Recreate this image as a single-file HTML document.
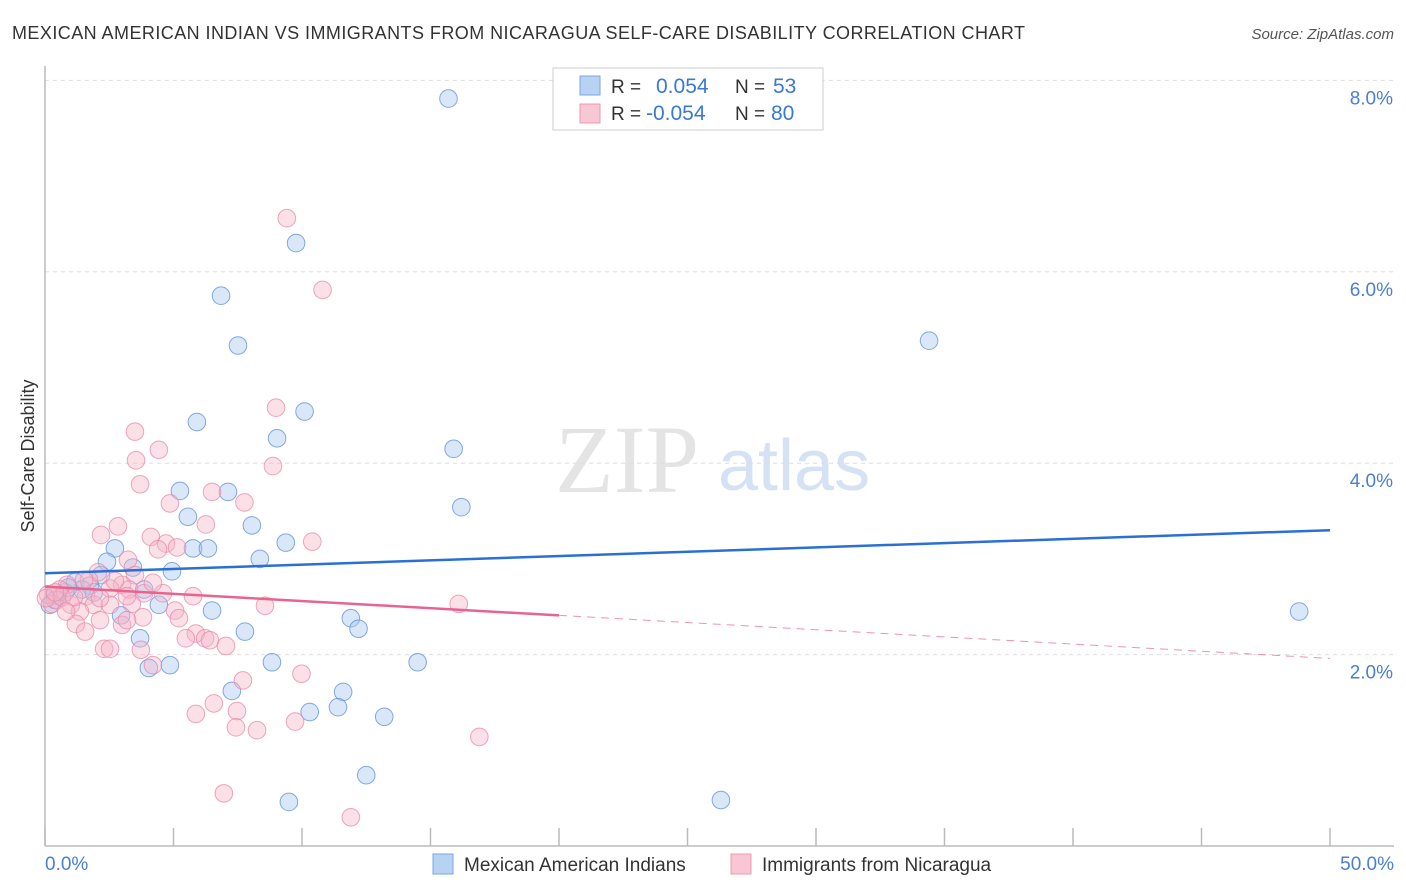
<!DOCTYPE html>
<html><head><meta charset="utf-8"><style>
body{margin:0;background:#fff;font-family:"Liberation Sans",sans-serif;}
svg{display:block}
</style></head><body>
<svg id="chart" width="1406" height="892">
<text x="12" y="39" font-size="18" fill="#333" textLength="1013">MEXICAN AMERICAN INDIAN VS IMMIGRANTS FROM NICARAGUA SELF-CARE DISABILITY CORRELATION CHART</text>
<text x="1394" y="39" font-size="15" fill="#555" text-anchor="end" font-style="italic">Source: ZipAtlas.com</text>
<text x="555" y="492" font-size="96" fill="#e4e4e4" font-family="Liberation Serif,serif">ZIP</text>
<text x="718" y="490" font-size="72" fill="#d5e2f4">atlas</text>
<g id="grid"></g>
<g id="axes"></g>
<g id="pts"></g>
<g id="trends"></g>
<text transform="translate(34,456) rotate(-90)" font-size="18" fill="#333" text-anchor="middle">Self-Care Disability</text>
<text x="45" y="870" font-size="19" fill="#4a7fd0">0.0%</text>
<text x="1394" y="870" font-size="19" fill="#4a7fd0" text-anchor="end">50.0%</text>
<g>
<rect x="553" y="68" width="270" height="62" fill="#fff" stroke="#ccc"/>
<rect x="580" y="76" width="20" height="19" fill="#b8d2f4" stroke="#7aa5e0"/>
<rect x="580" y="104" width="20" height="19" fill="#f9c6d4" stroke="#eb98b0"/>
<text x="611" y="93" font-size="19" fill="#333">R =</text>
<text x="656" y="93" font-size="21" fill="#3a78d4">0.054</text>
<text x="735" y="93" font-size="19" fill="#333">N =</text>
<text x="773" y="93" font-size="21" fill="#3a78d4">53</text>
<text x="611" y="120" font-size="19" fill="#333">R =</text>
<text x="646" y="120" font-size="21" fill="#3a78d4">-0.054</text>
<text x="735" y="120" font-size="19" fill="#333">N =</text>
<text x="771" y="120" font-size="21" fill="#3a78d4">80</text>
</g>
<g>
<rect x="433" y="854" width="20" height="20" fill="#b8d2f4" stroke="#7aa5e0"/>
<text x="464" y="871" font-size="19" fill="#333">Mexican American Indians</text>
<rect x="731" y="854" width="20" height="20" fill="#f9c6d4" stroke="#eb98b0"/>
<text x="762" y="871" font-size="19" fill="#333">Immigrants from Nicaragua</text>
</g>
</svg>
<script>
const yTicks=[2,4,6,8];
const xTicks=[0,5,10,15,20,25,30,35,40,45,50];
const blueX=[15.7,9.77,6.85,7.51,34.4,5.91,10.1,9.03,15.9,5.25,7.12,16.2,5.56,8.05,2.72,5.76,6.34,9.37,8.36,2.41,3.42,4.94,2.18,1.17,1.75,3.86,1.44,0.39,0.19,2.96,4.43,6.5,11.9,12.2,7.78,3.7,48.8,4.86,4.04,8.83,14.5,7.27,11.6,10.3,11.4,13.2,12.5,9.49,26.3,0.39,0.78,1.9,0.9];
const blueY=[7.81,6.30,5.75,5.23,5.28,4.43,4.54,4.26,4.15,3.71,3.70,3.54,3.44,3.35,3.11,3.11,3.11,3.17,3.00,2.97,2.91,2.87,2.83,2.76,2.72,2.68,2.68,2.62,2.52,2.41,2.52,2.46,2.38,2.27,2.24,2.17,2.45,1.89,1.86,1.92,1.92,1.62,1.61,1.40,1.45,1.35,0.74,0.46,0.48,2.57,2.65,2.65,2.70];
const pinkX=[9.41,10.8,8.99,3.5,4.43,3.54,8.87,3.7,6.5,7.76,4.86,2.84,6.26,2.18,4.12,10.4,4.71,5.14,4.4,3.23,2.06,3.5,3.0,0.86,2.53,3.27,3.85,4.59,5.76,1.6,0.58,0.47,1.01,1.9,2.53,3.38,8.56,16.1,1.36,5.06,3.81,2.14,3.0,1.2,5.21,5.87,1.56,5.48,6.23,6.42,7.04,2.3,2.53,3.73,4.2,9.98,7.7,6.57,5.87,7.47,9.73,7.43,8.25,16.9,6.96,11.9,0.12,0.27,0.04,0.66,1.71,2.72,0.39,1.13,3.19,4.2,2.14,0.82,1.52,3.19];
const pinkY=[6.56,5.81,4.58,4.33,4.14,4.03,3.97,3.78,3.70,3.59,3.58,3.34,3.36,3.25,3.23,3.18,3.16,3.12,3.10,2.99,2.86,2.83,2.73,2.73,2.69,2.68,2.64,2.64,2.61,2.61,2.68,2.57,2.52,2.52,2.52,2.53,2.51,2.53,2.45,2.46,2.39,2.36,2.31,2.32,2.38,2.22,2.24,2.17,2.17,2.15,2.09,2.06,2.06,2.05,1.89,1.80,1.73,1.49,1.38,1.41,1.30,1.24,1.21,1.14,0.55,0.30,2.63,2.53,2.59,2.60,2.78,2.77,2.65,2.60,2.61,2.75,2.59,2.45,2.78,2.36];
const blueTrend=[2.85,3.30];
const pinkTrend=[2.71,1.96];
const pinkSolidEnd=20;
const NS="http://www.w3.org/2000/svg";
const sx=v=>45+v/50*1285;
const sy=v=>846-v*95.7;
function mk(tag,attrs,parent){const e=document.createElementNS(NS,tag);for(const k in attrs)e.setAttribute(k,attrs[k]);parent.appendChild(e);return e;}
const grid=document.getElementById('grid'),axes=document.getElementById('axes'),pts=document.getElementById('pts'),tr=document.getElementById('trends');
yTicks.forEach(t=>{
 const l=mk('line',{x1:45,x2:1394,y1:sy(t),y2:sy(t),stroke:'#ddd','stroke-dasharray':'4,4'},grid);
 
 
 const tx=mk('text',{x:1393,y:sy(t)+24,'font-size':19,fill:'#4a7fd0','text-anchor':'end'},grid);
 tx.textContent=t.toFixed(1)+'%';
 
 
});
const ax=mk('line',{x1:45,x2:45,y1:66,y2:846,stroke:'#bbb','stroke-width':1.5},axes);


const xa=mk('line',{x1:45,x2:1394,y1:846,y2:846,stroke:'#bbb','stroke-width':1.5},axes);


xTicks.forEach(t=>{
 const l=mk('line',{x1:sx(t),x2:sx(t),y1:828,y2:846,stroke:'#bbb','stroke-width':1.5},axes);
 
 
});
function drawPts(X,Y,fill,stroke,name){
 X.forEach((x,i)=>{
  const c=mk('circle',{cx:sx(x),cy:sy(Y[i]),r:8.8,fill:fill,'fill-opacity':0.42,stroke:stroke,'stroke-opacity':0.75,'stroke-width':1},pts);
  
  
 });
}
drawPts(blueX,blueY,'#a7c6f0','#5b8fdb','point-mexican-american-indian');
drawPts(pinkX,pinkY,'#f6b5c8','#e58aa8','point-nicaragua');
const bt=mk('line',{x1:sx(0),y1:sy(blueTrend[0]),x2:sx(50),y2:sy(blueTrend[1]),stroke:'#2a6fd6','stroke-width':2.5},tr);


const pm=pinkTrend[0]+(pinkTrend[1]-pinkTrend[0])*pinkSolidEnd/50;
const ps=mk('line',{x1:sx(0),y1:sy(pinkTrend[0]),x2:sx(pinkSolidEnd),y2:sy(pm),stroke:'#e8648f','stroke-width':2.5},tr);


const pd=mk('line',{x1:sx(pinkSolidEnd),y1:sy(pm),x2:sx(50),y2:sy(pinkTrend[1]),stroke:'#e8648f','stroke-width':1,'stroke-dasharray':'8,6','stroke-opacity':0.7},tr);


</script>
</body></html>
